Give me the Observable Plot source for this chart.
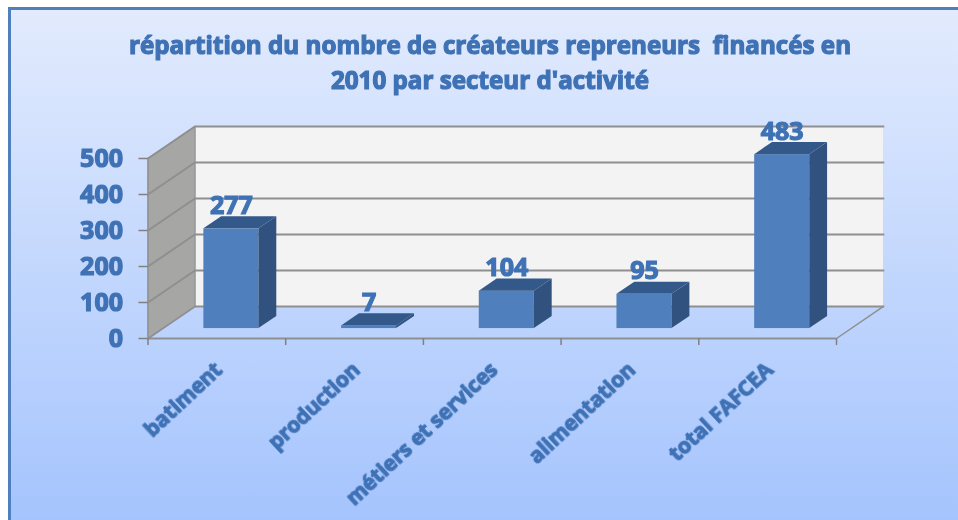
<!DOCTYPE html>
<html lang="fr">
<head>
<meta charset="utf-8">
<script src="https://cdn.jsdelivr.net/npm/d3@7"></script>
<script src="https://cdn.jsdelivr.net/npm/@observablehq/plot@0.6"></script>
<style>
  html, body { margin: 0; padding: 0; background: #fff; }
  #page { position: relative; width: 958px; height: 520px; overflow: hidden; }
  #frame { position: absolute; left: 8px; top: 7px; right: 0; bottom: 0; box-sizing: border-box;
           border-left: 3px solid #4f7fbc; border-top: 3px solid #4f7fbc;
           background: linear-gradient(#e2ebfd, #a5c4fd); }
  #title { position: absolute; left: 0; top: 27px; width: 980px; text-align: center; margin: 0;
           font: 700 24.2px/35px "Open Sans", sans-serif; color: #3f72b5; -webkit-text-stroke: 1.2px #3f72b5;
           filter: blur(.5px); white-space: pre-wrap; }
  #chart { position: absolute; left: 0; top: 96px; }
  #chart svg { background: transparent; overflow: visible; }
  #chart svg text { font-family: "Open Sans", sans-serif; font-weight: 700; fill: #3f72b5; stroke: #3f72b5;
                    stroke-width: 1.2px; filter: blur(.4px); }
</style>
</head>
<body>
<div id="page">
  <div id="frame"></div>
  <h1 id="title"></h1>
  <div id="chart"></div>
</div>
<script>
const titleLines = ["répartition du nombre de créateurs repreneurs  financés en", "2010 par secteur d'activité"];
const categories = ["batiment", "production", "métiers et services", "alimentation", "total FAFCEA"];
const values = [277, 7, 104, 95, 483];
const yTicks = [0, 100, 200, 300, 400, 500];

// 3D projection expressed in scale units
const depthX = 0.341, depthY = 89;
const frontFrac = 0.31, backFrac = 0.69, barWidth = 0.4;
const yMax = 500, xMax = categories.length;

const bars = categories.map((name, i) => {
  const x0 = i + 0.5 - barWidth / 2 + depthX * frontFrac;
  return {name, value: values[i], x0, x1: x0 + barWidth, xc: x0 + barWidth / 2,
          base: depthY * frontFrac, top: depthY * frontFrac + values[i]};
});
const dXb = depthX * (backFrac - frontFrac), dYb = depthY * (backFrac - frontFrac);
const sideFaces = bars.flatMap(b => [
  {name: b.name, x: b.x1, y1: b.base, y2: b.top},
  {name: b.name, x: b.x1 + dXb, y1: b.base + dYb, y2: b.top + dYb}
]);
const topFaces = bars.flatMap(b => [
  {name: b.name, y: b.top, x1: b.x0, x2: b.x1},
  {name: b.name, y: b.top + dYb, x1: b.x0 + dXb, x2: b.x1 + dXb}
]);
const leftWall = [
  {x: 0, y1: 0, y2: yMax},
  {x: depthX, y1: depthY, y2: yMax + depthY}
];
const gridLines = yTicks.flatMap(t => [
  {t, x: 0, y: t}, {t, x: depthX, y: t + depthY}, {t, x: xMax + depthX, y: t + depthY}
]);
const floorRight = [{x: xMax, y: 0}, {x: xMax + depthX, y: depthY}];
const wallEdge = [{x: depthX, y: depthY}, {x: depthX, y: yMax + depthY}];
const leftEdge = [{x: 0, y: 0}, {x: 0, y: yMax}];

const gridColor = "#8f8f8f";
const chart = Plot.plot({
  width: 958, height: 424,
  marginLeft: 147.5, marginRight: 122, marginTop: 62, marginBottom: 182,
  x: {type: "linear", domain: [0, xMax], axis: null},
  y: {type: "linear", domain: [0, yMax], axis: null},
  marks: [
    Plot.rect([{}], {x1: depthX, x2: xMax + depthX, y1: depthY, y2: yMax + depthY, fill: "#f3f3f3"}),
    Plot.areaY(leftWall, {x: "x", y1: "y1", y2: "y2", fill: "#a6a6a4"}),
    Plot.line(gridLines, {x: "x", y: "y", z: "t", stroke: gridColor, strokeWidth: 2}),
    Plot.line(leftEdge, {x: "x", y: "y", stroke: gridColor, strokeWidth: 1.5}),
    Plot.line(wallEdge, {x: "x", y: "y", stroke: gridColor, strokeWidth: 1.5}),
    Plot.line(floorRight, {x: "x", y: "y", stroke: gridColor, strokeWidth: 1.5}),
    Plot.ruleY([0], {x1: 0, x2: xMax, stroke: gridColor, strokeWidth: 2}),
    Plot.axisX(d3.range(xMax + 1), {anchor: "bottom", tickSize: 7, tickFormat: () => "", stroke: "#808080", strokeWidth: 1.5, label: null}),
    Plot.axisY(yTicks, {anchor: "left", tickSize: 9, tickPadding: 16, fontSize: 25, stroke: "#808080", strokeWidth: 1.5, label: null}),
    Plot.rect(bars, {x1: "x0", x2: "x1", y1: "base", y2: "top", fill: "#4f7fbc"}),
    Plot.areaY(sideFaces, {x: "x", y1: "y1", y2: "y2", z: "name", fill: "#31527f"}),
    Plot.areaX(topFaces, {y: "y", x1: "x1", x2: "x2", z: "name", fill: "#33598a"}),
    Plot.text(bars, {x: "xc", y: "top", text: d => String(d.value), dy: -15, lineAnchor: "bottom", fontSize: 25}),
    Plot.text(categories, {x: (d, i) => i + 0.5, y: 0, text: d => d, rotate: -43, textAnchor: "end", dx: 2, dy: 28, fontSize: 21})
  ]
});
document.getElementById("chart").append(chart);
document.getElementById("title").textContent = titleLines.join("\n");
</script>
</body>
</html>
